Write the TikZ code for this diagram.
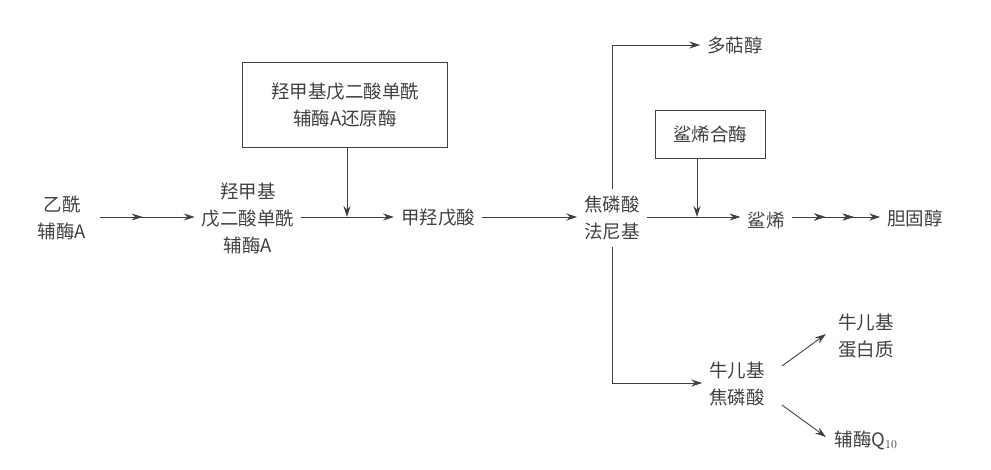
\documentclass[tikz,border=0pt]{standalone}
\usepackage{fontspec}
\setmainfont{Noto Sans CJK SC}
\usetikzlibrary{arrows.meta,decorations.markings}
\begin{document}
\begin{tikzpicture}[x=1pt,y=-1pt,
  lbl/.style={font=\fontsize{18.5}{27}\selectfont,color=black!75,align=center,inner sep=1pt,outer sep=6pt},
  box/.style={lbl,draw=black!75,line width=0.9pt,outer sep=0pt},
  arr/.style={draw=black!75,line width=0.9pt,-{Stealth[length=11pt,width=7pt]}},
  mid/.style={postaction={decorate},decoration={markings,mark=at position #1 with {\arrow{Stealth[length=11pt,width=7pt]}}}}]
\useasboundingbox (0,0) rectangle (991,469);
\node[lbl] (a) at (62,218) {乙酰\\辅酶A};
\node[lbl] (b) at (248,218) {羟甲基\\戊二酸单酰\\辅酶A};
\node[box,minimum width=205,minimum height=85] (e1) at (345,105) {羟甲基戊二酸单酰\\辅酶A还原酶};
\node[lbl] (c) at (438,218) {甲羟戊酸};
\node[lbl] (d) at (612,218) {焦磷酸\\法尼基};
\node[lbl] (p) at (735,45) {多萜醇};
\node[box,minimum width=110,minimum height=48] (e2) at (710,134) {鲨烯合酶};
\node[lbl] (s) at (766,220) {鲨烯};
\node[lbl] (ch) at (915,218) {胆固醇};
\node[lbl] (g) at (737,384) {牛儿基\\焦磷酸};
\node[lbl] (gp) at (866,336) {牛儿基\\蛋白质};
\node[lbl] (q) at (866,440) {辅酶Q$_{10}$};
\coordinate (j1) at (347,217);
\coordinate (j2) at (697,217);
\coordinate (a0) at (100,217);
\draw[arr,mid=0.45] (a0) -- (b.west|-a0);
\draw[arr] (b.east|-j1) -- (c.west|-j1);
\draw[arr] (e1.south-|j1) -- (j1);
\draw[arr] (c.east|-j1) -- (d.west|-j1);
\draw[arr] (d.north) -- (612,45) -- (p.west);
\draw[arr] (d.south) -- (612,383) -- (g.west|-612,383);
\draw[arr] (d.east|-j2) -- (s.west|-j2);
\draw[arr] (e2.south-|j2) -- (j2);
\draw[arr,mid=0.38,mid=0.7] (s.east|-j2) -- (ch.west|-j2);
\draw[arr] (782,366) -- (826,334);
\draw[arr] (782,405) -- (826,437);
\end{tikzpicture}
\end{document}
